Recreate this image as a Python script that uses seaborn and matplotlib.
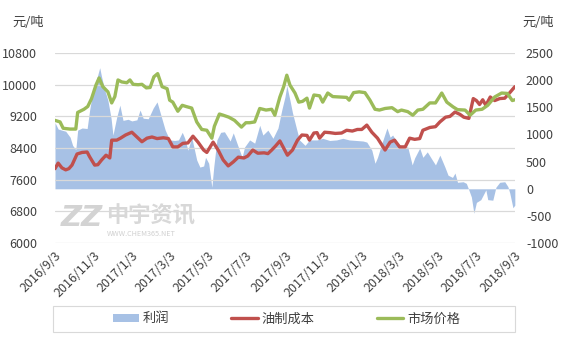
import matplotlib
matplotlib.use("Agg")
import matplotlib.pyplot as plt
import seaborn as sns
import pandas as pd
from matplotlib.patches import Patch, Rectangle
from matplotlib.lines import Line2D

# ---------------- data ----------------
price_dates = ["2016-09-03","2016-09-11","2016-09-16","2016-09-27","2016-10-06","2016-10-09","2016-10-19","2016-10-25",
               "2016-10-31","2016-11-07","2016-11-12","2016-11-18","2016-11-26","2016-12-02","2016-12-07","2016-12-12",
               "2016-12-18","2016-12-26","2016-12-31","2017-01-05","2017-01-13","2017-01-19","2017-01-26","2017-02-01",
               "2017-02-07","2017-02-13","2017-02-20","2017-02-28","2017-03-04","2017-03-09","2017-03-17","2017-03-24",
               "2017-03-30","2017-04-08","2017-04-16","2017-04-24","2017-05-02","2017-05-10","2017-05-14","2017-05-22",
               "2017-05-28","2017-06-06","2017-06-15","2017-06-26","2017-07-03","2017-07-09","2017-07-17","2017-07-25",
               "2017-08-04","2017-08-13","2017-08-18","2017-08-26","2017-09-01","2017-09-06","2017-09-11","2017-09-19",
               "2017-09-25","2017-10-01","2017-10-08","2017-10-12","2017-10-19","2017-10-28","2017-11-02","2017-11-10",
               "2017-11-18","2017-11-29","2017-12-10","2017-12-14","2017-12-21","2017-12-30","2018-01-08","2018-01-16",
               "2018-01-24","2018-01-31","2018-02-09","2018-02-20","2018-03-01","2018-03-07","2018-03-17","2018-03-25",
               "2018-04-02","2018-04-10","2018-04-21","2018-04-30","2018-05-10","2018-05-18","2018-05-28","2018-06-04",
               "2018-06-16","2018-06-24","2018-07-03","2018-07-13","2018-07-22","2018-08-02","2018-08-13","2018-08-22",
               "2018-08-30","2018-09-03"]
price_values = [9100,9060,8900,8880,8880,9300,9380,9450,
                9650,9990,10170,9950,9820,9540,9700,10120,
                10070,10050,10120,10010,10000,10010,9920,9930,
                10200,10280,9950,9900,9610,9560,9330,9480,
                9450,9410,9060,8870,8850,8650,8950,9260,
                9230,9180,9100,8930,9040,9040,9060,9400,
                9360,9380,9230,9690,9950,10240,9990,9790,
                9560,9580,9660,9410,9740,9720,9560,9790,
                9700,9690,9680,9610,9800,9820,9800,9610,
                9380,9360,9400,9420,9320,9360,9320,9230,
                9360,9380,9540,9540,9790,9560,9440,9370,
                9360,9230,9360,9380,9480,9690,9790,9780,
                9600,9620]

cost_dates = ["2016-09-03","2016-09-08","2016-09-14","2016-09-20","2016-09-25","2016-09-30","2016-10-08","2016-10-16",
              "2016-10-24","2016-10-28","2016-11-05","2016-11-10","2016-11-16","2016-11-23","2016-11-29","2016-12-02",
              "2016-12-10","2016-12-16","2016-12-24","2017-01-03","2017-01-11","2017-01-19","2017-01-27","2017-02-04",
              "2017-02-12","2017-02-22","2017-03-02","2017-03-09","2017-03-17","2017-03-25","2017-04-02","2017-04-10",
              "2017-04-18","2017-04-27","2017-05-02","2017-05-12","2017-05-20","2017-05-28","2017-06-05","2017-06-13",
              "2017-06-21","2017-06-30","2017-07-06","2017-07-14","2017-07-22","2017-08-01","2017-08-07","2017-08-13",
              "2017-08-19","2017-08-26","2017-09-01","2017-09-07","2017-09-15","2017-09-23","2017-09-30","2017-10-08",
              "2017-10-12","2017-10-19","2017-10-24","2017-10-28","2017-11-05","2017-11-13","2017-11-22","2017-12-02",
              "2017-12-10","2017-12-19","2017-12-27","2018-01-03","2018-01-11","2018-01-19","2018-01-28","2018-02-09",
              "2018-02-17","2018-02-24","2018-03-04","2018-03-13","2018-03-20","2018-03-28","2018-04-05","2018-04-10",
              "2018-04-21","2018-04-30","2018-05-07","2018-05-16","2018-05-23","2018-05-31","2018-06-08","2018-06-14",
              "2018-06-22","2018-06-29","2018-07-04","2018-07-09","2018-07-14","2018-07-19","2018-07-26","2018-08-02",
              "2018-08-10","2018-08-18","2018-08-26","2018-09-03"]
cost_values = [7880,8020,7900,7850,7880,7970,8250,8290,
               8300,8180,7970,7980,8100,8220,8150,8600,
               8600,8650,8730,8800,8680,8560,8650,8680,
               8640,8660,8640,8430,8430,8520,8530,8700,
               8550,8350,8290,8550,8350,8100,7950,8050,
               8170,8150,8200,8350,8270,8280,8260,8350,
               8450,8580,8400,8220,8350,8600,8730,8720,
               8600,8780,8790,8650,8800,8790,8770,8780,
               8850,8830,8870,8870,8980,8800,8650,8350,
               8550,8600,8430,8430,8650,8620,8640,8850,
               8920,8940,9060,9180,9200,9310,9250,9180,
               9150,9650,9600,9500,9620,9480,9690,9600,
               9650,9660,9800,9950]

profit_dates = ["2016-09-03","2016-09-08","2016-09-14","2016-09-20","2016-09-27","2016-10-01","2016-10-06","2016-10-09",
                "2016-10-16","2016-10-24","2016-10-28","2016-11-02","2016-11-09","2016-11-13","2016-11-16","2016-11-21",
                "2016-11-26","2016-12-01","2016-12-04","2016-12-10","2016-12-15","2016-12-20","2016-12-28","2017-01-03",
                "2017-01-11","2017-01-16","2017-01-21","2017-01-29","2017-02-06","2017-02-12","2017-02-17","2017-02-25",
                "2017-03-04","2017-03-12","2017-03-18","2017-03-24","2017-03-28","2017-04-02","2017-04-08","2017-04-16",
                "2017-04-21","2017-04-27","2017-04-30","2017-05-05","2017-05-10","2017-05-13","2017-05-18","2017-05-24",
                "2017-05-30","2017-06-08","2017-06-13","2017-06-21","2017-06-27","2017-07-01","2017-07-09","2017-07-17",
                "2017-07-25","2017-07-30","2017-08-07","2017-08-15","2017-08-23","2017-08-29","2017-09-03","2017-09-06",
                "2017-09-11","2017-09-15","2017-09-22","2017-09-26","2017-10-05","2017-10-12","2017-10-24","2017-11-02",
                "2017-11-13","2017-11-24","2017-12-04","2017-12-14","2017-12-25","2018-01-05","2018-01-11","2018-01-19",
                "2018-01-24","2018-01-28","2018-02-04","2018-02-12","2018-02-17","2018-02-21","2018-03-01","2018-03-09",
                "2018-03-17","2018-03-24","2018-03-28","2018-04-05","2018-04-10","2018-04-17","2018-04-25","2018-04-30",
                "2018-05-07","2018-05-15","2018-05-20","2018-05-27","2018-05-31","2018-06-04","2018-06-13","2018-06-18",
                "2018-06-21","2018-06-26","2018-06-30","2018-07-04","2018-07-11","2018-07-19","2018-07-22","2018-07-30",
                "2018-08-04","2018-08-10","2018-08-18","2018-08-23","2018-08-26","2018-08-31","2018-09-03"]
profit_values = [1220,1100,1080,1060,950,800,720,1080,
                 1120,1110,1450,1800,2060,2230,2060,1820,
                 1630,1300,990,1320,1540,1260,1280,1250,
                 1270,1450,1300,1290,1490,1600,1400,1080,
                 900,890,900,1040,930,710,950,530,
                 400,420,580,470,30,400,900,1040,
                 1050,880,1030,770,580,770,900,840,
                 1170,990,1080,930,1120,1450,1690,1900,
                 1630,1400,1080,900,800,900,900,930,
                 890,900,930,900,890,880,860,710,
                 470,580,840,1120,950,990,840,770,
                 770,440,570,750,580,680,530,440,
                 620,400,250,210,290,120,130,100,
                 10,-150,-450,-250,-200,-20,-200,-210,
                 30,120,130,40,-80,-350,-300]

x_tick_labels = ["2016/9/3","2016/11/3","2017/1/3","2017/3/3","2017/5/3","2017/7/3","2017/9/3",
                 "2017/11/3","2018/1/3","2018/3/3","2018/5/3","2018/7/3","2018/9/3"]
left_ticks = [6000, 6800, 7600, 8400, 9200, 10000, 10800]
right_ticks = [-1000, -500, 0, 500, 1000, 1500, 2000, 2500]
series_names = ["利润", "油制成本", "市场价格"]

# ---------------- style ----------------
sns.set_theme(style="white")
plt.rcParams['font.family'] = ['Noto Sans CJK SC', 'DejaVu Sans']

C_AREA = "#A7C1E5"
C_COST = "#C0504D"
C_PRICE = "#9BBB59"
C_TEXT = "#404040"

fig = plt.figure(figsize=(5.67, 3.40), dpi=100)
ax = fig.add_axes([0.097, 0.285, 0.811, 0.559])
ax2 = ax.twinx()

pdates = pd.to_datetime(profit_dates)
ax2.fill_between(pdates, 0, profit_values, color=C_AREA, linewidth=0, zorder=1)

sns.lineplot(x=pd.to_datetime(cost_dates), y=cost_values, ax=ax, color=C_COST, linewidth=2.4, zorder=3)
sns.lineplot(x=pd.to_datetime(price_dates), y=price_values, ax=ax, color=C_PRICE, linewidth=2.4, zorder=3)

ax.set_zorder(ax2.get_zorder() + 1)
ax.patch.set_visible(False)

tick_dates = pd.to_datetime(x_tick_labels, format="%Y/%m/%d")
ax.set_xlim(tick_dates[0], tick_dates[-1])
ax.set_xticks(tick_dates)
ax.set_xticklabels(x_tick_labels, rotation=45, ha="right", rotation_mode="anchor",
                   fontsize=9, color=C_TEXT)

ax.set_ylim(6000, 10800)
ax.set_yticks(left_ticks)
ax.set_yticklabels([str(v) for v in left_ticks], fontsize=9, color=C_TEXT)
ax2.set_ylim(-1000, 2500)
ax2.set_yticks(right_ticks)
ax2.set_yticklabels([str(v) for v in right_ticks], fontsize=9, color=C_TEXT)

ax.grid(axis="y", color="#D9D9D9", linewidth=0.9)
ax.grid(axis="x", visible=False)
ax2.grid(False)
for a in (ax, ax2):
    for s in a.spines.values():
        s.set_visible(False)
    a.tick_params(length=0)
ax.tick_params(axis="y", pad=13)
ax.tick_params(axis="x", pad=4)
ax2.tick_params(axis="y", pad=8)
ax.set_xlabel("")
ax.set_ylabel("")

fig.text(0.022, 0.935, "元/吨", fontsize=9.5, color=C_TEXT, va="center")
fig.text(0.922, 0.935, "元/吨", fontsize=9.5, color=C_TEXT, va="center")

# watermark
fig.text(0.108, 0.36, "ZZ", fontsize=21, color="#D3D3D3", fontweight="bold", va="center",
         style="italic", family="DejaVu Sans")
fig.text(0.187, 0.365, "中宇资讯", fontsize=16, color="#D8D8D8", fontweight="bold", va="center")
fig.text(0.189, 0.312, "WWW.CHEM365.NET", fontsize=5.2, color="#D0D0D0", va="center")

# legend with a full-width frame
fig.patches.append(Rectangle((0.094, 0.024), 0.814, 0.076, transform=fig.transFigure,
                             facecolor="none", edgecolor="#D9D9D9", linewidth=0.8))
handles = [Patch(facecolor=C_AREA, edgecolor="none"),
           Line2D([0], [0], color=C_COST, linewidth=2.4),
           Line2D([0], [0], color=C_PRICE, linewidth=2.4)]
leg = fig.legend(handles, series_names, loc="center", ncol=3,
                 bbox_to_anchor=(0.505, 0.062), frameon=False,
                 fontsize=9.5, handlelength=2.0, handleheight=0.6, handletextpad=0.3,
                 columnspacing=4.7, labelcolor=C_TEXT)

fig.savefig("out.png", dpi=100)
